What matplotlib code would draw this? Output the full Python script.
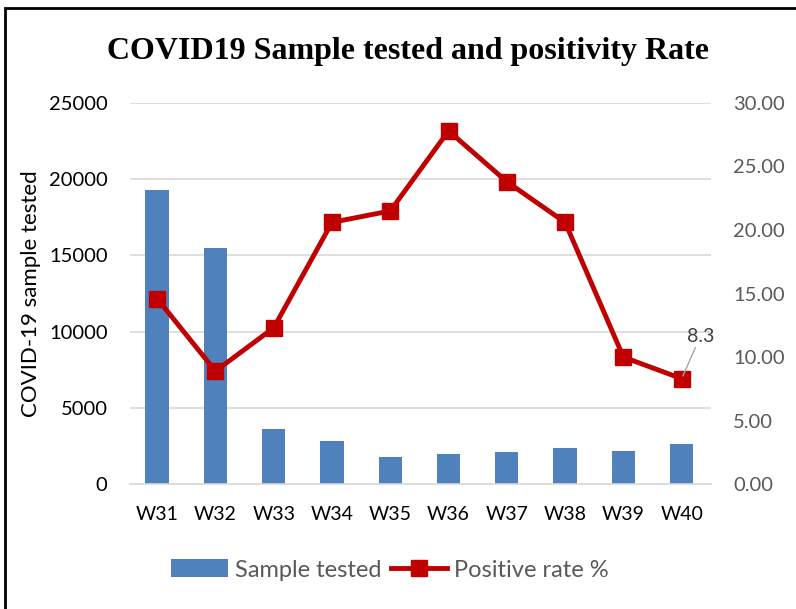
import numpy as np
import matplotlib.pyplot as plt
from matplotlib.patches import Rectangle

weeks = ['W31', 'W32', 'W33', 'W34', 'W35', 'W36', 'W37', 'W38', 'W39', 'W40']
samples = [19300, 15500, 3600, 2800, 1780, 2000, 2100, 2400, 2200, 2650]
pos_rate = [14.6, 8.9, 12.3, 20.6, 21.5, 27.8, 23.8, 20.6, 10.0, 8.3]

plt.rcParams['font.family'] = ['Lato', 'DejaVu Sans']

fig = plt.figure(figsize=(7.96, 6.09), dpi=100)
ax = fig.add_axes([0.163, 0.205, 0.730, 0.626])
ax2 = ax.twinx()

x = np.arange(len(weeks))
bars = ax.bar(x, samples, width=0.4, color='#4f81bd', label='Sample tested', zorder=2)
line, = ax2.plot(x, pos_rate, color='#c00000', lw=3.5, marker='s', ms=11,
                 label='Positive rate %', zorder=3)

ax.set_ylim(0, 25000)
ax.set_yticks(np.arange(0, 25001, 5000))
ax2.set_ylim(0, 30)
ax2.set_yticks(np.arange(0, 31, 5))
ax2.set_yticklabels(['%.2f' % v for v in np.arange(0, 31, 5)])
ax.set_xlim(-0.47, 9.5)
ax.set_xticks(x)
ax.set_xticklabels(weeks)

ax.grid(axis='y', color='#d9d9d9', lw=1.2, zorder=0)
ax.set_axisbelow(True)
for a in (ax, ax2):
    for s in a.spines.values():
        s.set_visible(False)
ax.spines['bottom'].set_visible(True)
ax.spines['bottom'].set_color('#d9d9d9')
ax.spines['bottom'].set_linewidth(1.2)

ax.tick_params(axis='y', length=0, labelsize=14.5, pad=16, colors='black')
ax.tick_params(axis='x', length=0, labelsize=14, pad=16)
ax2.tick_params(axis='y', length=0, labelsize=14.5, pad=16, labelcolor='#595959')

ax.set_ylabel('COVID-19 sample tested', fontsize=16)
ax.yaxis.set_label_coords(-0.153, 0.5)

ax2.annotate('8.3', xy=(x[-1], pos_rate[-1]), xytext=(x[-1] + 0.32, pos_rate[-1] + 2.9),
             fontsize=14, color='#404040', ha='center',
             arrowprops=dict(arrowstyle='-', color='#a6a6a6', lw=1, shrinkA=0, shrinkB=2))

fig.suptitle('COVID19 Sample tested and positivity Rate', x=0.512, y=0.94,
             fontsize=23, fontweight='bold', family='Liberation Serif')

fig.legend(handles=[bars, line], loc='center', bbox_to_anchor=(0.49, 0.064), ncol=2,
           frameon=False, fontsize=17, labelcolor='#595959', handlelength=2.4,
           handleheight=0.8, columnspacing=0.4, handletextpad=0.3)

fig.patches.append(Rectangle((0.006, -0.01), 1.1, 0.997, transform=fig.transFigure,
                             fill=False, edgecolor='black', lw=2))

fig.savefig('out.png', dpi=100)
